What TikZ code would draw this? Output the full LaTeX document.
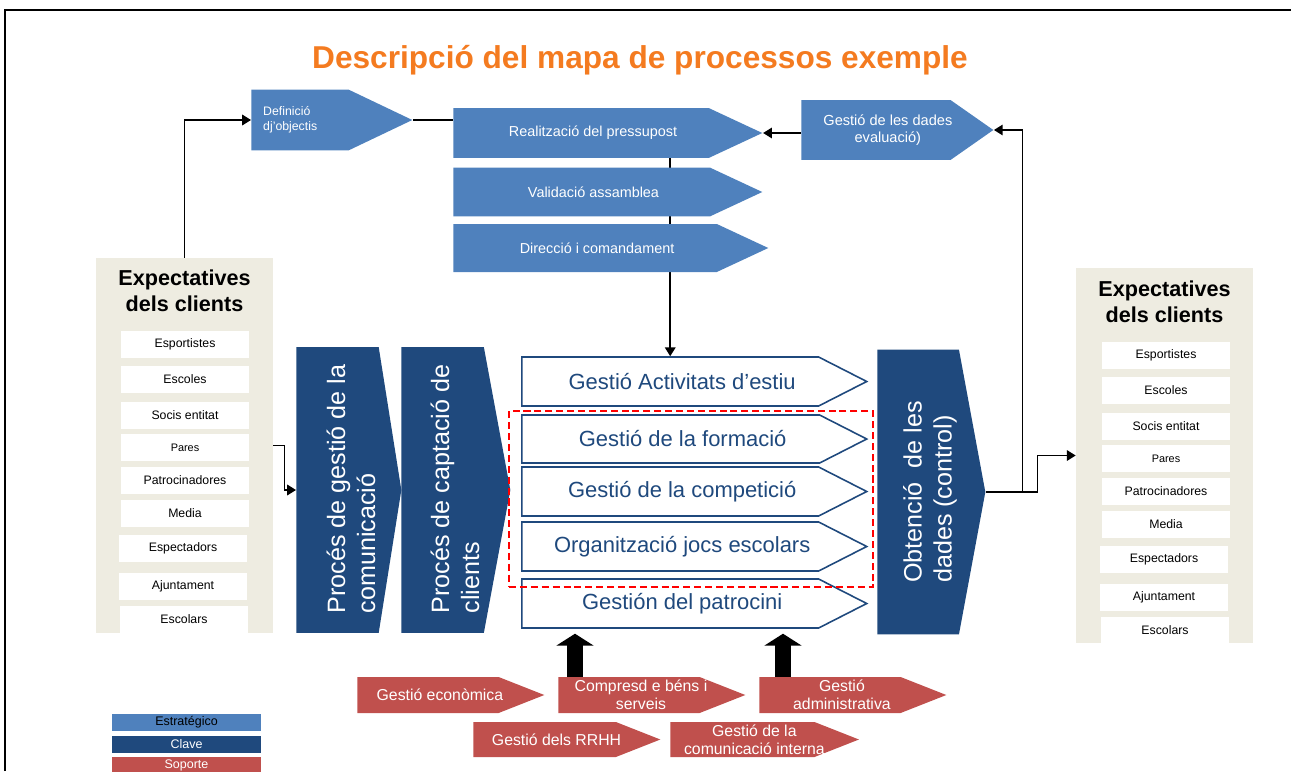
\documentclass[tikz,border=0pt]{standalone}
\usepackage{fontspec}
\setmainfont{Liberation Sans}
\usetikzlibrary{shapes.symbols, arrows.meta, backgrounds, calc}
\definecolor{stratblue}{HTML}{4F81BD}
\definecolor{keyblue}{HTML}{1F497D}
\definecolor{suppred}{HTML}{C0504D}
\definecolor{beige}{HTML}{EEECE1}
\definecolor{titleorange}{HTML}{F47B20}
% text sits a bit right of the body centre, box width unchanged
\newcommand{\tsh}[1]{\hspace*{6.8pt}#1\hspace*{-6.8pt}}

\begin{document}
\begin{tikzpicture}[x=0.02cm, y=-0.02cm]
        \tikzstyle{strat}=[signal, signal to=east, signal pointer angle=50, fill=stratblue, text=white, anchor=west, inner sep=2pt, align=center, font=\fontsize{8.2}{9.5}\selectfont]
        \tikzstyle{keyproc}=[signal, signal to=east, fill=keyblue, anchor=west, inner sep=0pt]
        \tikzstyle{keytext}=[rotate=90, text=white, align=left, font=\fontsize{14.3}{17}\selectfont]
        \tikzstyle{oper}=[signal, signal to=east, signal pointer angle=54, draw=keyblue, line width=0.9pt, fill=white, text=keyblue, anchor=west, minimum width=6.9cm, minimum height=0.98cm, font=\fontsize{12.5}{14}\selectfont]
        \tikzstyle{supp}=[signal, signal to=east, signal pointer angle=43, fill=suppred, text=white, anchor=west, minimum width=3.74cm, minimum height=0.72cm, inner sep=1pt, align=center, font=\fontsize{9}{10.5}\selectfont]
        \tikzstyle{client}=[fill=beige, minimum width=3.54cm, minimum height=7.5cm]
        \tikzstyle{item}=[fill=white, minimum width=2.56cm, minimum height=0.54cm, inner sep=0pt, font=\fontsize{7}{8}\selectfont]
        \tikzstyle{legend}=[minimum width=2.98cm, minimum height=0.34cm, inner sep=0pt, font=\fontsize{7.1}{8}\selectfont]
        \tikzstyle{conn}=[-{Triangle[length=5pt, width=6pt]}, line width=0.85pt]
        \tikzstyle{fat}=[-{Triangle[length=6.8pt, width=21pt]}, line width=9pt]

        \useasboundingbox (0,0) rectangle (1291,771);
        \draw[line width=1.1pt] (5,771) -- (5,10) -- (1291,10);

        \node[text=titleorange, font=\bfseries\fontsize{18}{21}\selectfont] (title) at (640,60) {Descripció del mapa de processos exemple};

        % estrategics
        \node[strat, signal pointer angle=51, minimum width=3.22cm, minimum height=1.22cm, align=left, font=\fontsize{7}{8.5}\selectfont] (defin) at (251,120) {Definició\\dj’objectis\hspace*{11pt}};
        \node[strat, minimum width=6.18cm, minimum height=1cm] (pressupost) at (453,133) {\tsh{Realització del pressupost}};
        \node[strat, minimum width=6.18cm, minimum height=0.98cm] (validacio) at (453,192) {\tsh{Validació assamblea}};
        \node[strat, minimum width=6.3cm, minimum height=0.96cm] (direccio) at (453,248) {\tsh{Direcció i comandament}};
        \node[strat, signal pointer angle=70, minimum width=3.84cm, minimum height=1.2cm, font=\fontsize{8.3}{10}\selectfont] (dades) at (801,130) {\tsh{Gestió de les dades}\\\tsh{evaluació)}};

        % clients
        \node[client] (expL) at (184.5,445.5) {};
        \node[client] (expR) at (1164.5,455.5) {};
        \node[align=center, font=\bfseries\fontsize{12.3}{14.7}\selectfont] (expLt) at (184.5,291) {Expectatives\\dels clients};
        \node[align=center, font=\bfseries\fontsize{12.3}{14.7}\selectfont] (expRt) at (1164.5,302) {Expectatives\\dels clients};
        \foreach \nm/\txt/\yy/\xx in {1/Esportistes/344.5/185, 2/Escoles/379/185, 3/Socis entitat/415/185, 4/{{\fontsize{6.2}{7}\selectfont Pares}}/447.5/185, 5/Patrocinadores/480/185, 6/Media/513.5/185, 7/Espectadors/548.5/183, 8/Ajuntament/586.5/183, 9/Escolars/619.5/184}{
            \node[item] (cl\nm) at (\xx,\yy) {\txt};
            \node[item] (cr\nm) at (\xx+981,\yy+11) {\txt};
        }

        % processos clau
        \node[keyproc, signal pointer angle=162, minimum width=2.1cm, minimum height=5.72cm] (comunic) at (296,490) {};
        \node[keyproc, signal pointer angle=159, minimum width=2.18cm, minimum height=5.72cm] (captacio) at (401,490) {};
        \node[keyproc, signal pointer angle=159, minimum width=2.16cm, minimum height=5.7cm] (obtencio) at (877,492) {};
        \node[keytext] (comunict) at (351,489) {Procés de gestió de la\\comunicació};
        \node[keytext] (captaciot) at (455,489) {Procés de captació de\\clients};
        \node[keytext] (obtenciot) at (930,492) {Obtenció\ \ de les\\dades (control)};

        \node[oper] (estiu) at (521,381.5) {\tsh{Gestió Activitats d’estiu}};
        \node[oper, minimum height=0.96cm] (formacio) at (521,439) {\tsh{Gestió de la formació}};
        \node[oper] (competicio) at (521,491.5) {\tsh{Gestió de la competició}};
        \node[oper] (jocs) at (521,546.5) {\tsh{Organització jocs escolars}};
        \node[oper] (patrocini) at (521,603.5) {\tsh{Gestión del patrocini}};
        \node[draw=red, dashed, dash pattern=on 4pt off 2.2pt, line width=1.1pt, minimum width=7.28cm, minimum height=3.52cm] (grup) at (691,499) {};

        % suport
        \node[supp] (economica) at (357,695) {\tsh{Gestió econòmica}};
        \node[supp] (compres) at (558,695) {\tsh{Compresd e béns i}\\\tsh{serveis}};
        \node[supp] (admin) at (759,695) {\tsh{Gestió}\\\tsh{administrativa}};
        \node[supp, minimum height=0.7cm] (rrhh) at (473,739.5) {\tsh{Gestió dels RRHH}};
        \node[supp, minimum height=0.7cm] (interna) at (670,739.5) {\tsh{Gestió de la}\\\tsh{comunicació interna}};

        % llegenda
        \node[legend, fill=stratblue] (lstrat) at (186.5,722.5) {Estratégico};
        \node[legend, fill=keyblue, text=white] (lclave) at (186.5,744.5) {Clave};
        \node[legend, fill=suppred, text=white] (lsoporte) at (186.5,765.5) {Soporte};

        \begin{pgfonlayer}{background}
            \draw[conn] (pressupost.south -| estiu.north) -- (estiu.north);
        \end{pgfonlayer}
        \draw[conn] (expL.north) |- (defin.west);
        \draw[line width=0.85pt] (defin.east) -- (defin.east -| pressupost.west);
        \draw[conn] (dades.west |- pressupost.east) -- (pressupost.east);
        \draw[conn] (expL.east) -- ++(11,0) |- (comunic.west);
        \draw[conn] (obtencio.east) -- ++(52,0) |- (expR.west);
        \draw[conn] (obtencio.east) ++(37,0) |- (dades.east);
        \draw[fat] (compres.north -| 575,0) -- ([yshift=-2.8pt]patrocini.south -| 575,0);
        \draw[fat] (admin.north -| 783,0) -- ([yshift=-2.8pt]patrocini.south -| 783,0);
\end{tikzpicture}
\end{document}
